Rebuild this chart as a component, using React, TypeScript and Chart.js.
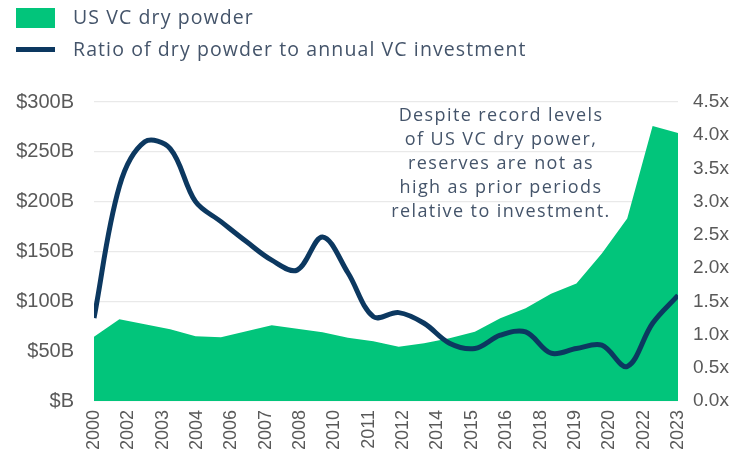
import React, { useEffect, useRef } from "react";
import { Chart, registerables } from "chart.js";

Chart.register(...registerables);

const years = [
  2000, 2001, 2002, 2003, 2004, 2005, 2006, 2007, 2008, 2009, 2010, 2011,
  2012, 2013, 2014, 2015, 2016, 2017, 2018, 2019, 2020, 2021, 2022, 2023,
];
const xTickLabels = [
  "2000", "2002", "2003", "2004", "2006", "2007", "2008", "2010", "2011",
  "2012", "2014", "2015", "2016", "2018", "2019", "2020", "2022", "2023",
];
const dryPowder = [
  64.5, 82, 77, 72, 65, 64, 70, 76, 72.5, 69, 63.5, 60, 54.5, 58, 63, 69.5,
  83, 93, 107.5, 118, 148, 183, 276, 269,
];
const ratio = [
  1.25, 3.23, 3.9, 3.8, 3.0, 2.7, 2.4, 2.12, 1.97, 2.47, 1.93, 1.27, 1.33,
  1.17, 0.87, 0.79, 0.99, 1.04, 0.72, 0.79, 0.84, 0.52, 1.17, 1.59,
];
const annotationLines = [
  "Despite record levels",
  "of US VC dry power,",
  "reserves are not as",
  "high as prior periods",
  "relative to investment.",
];

const GREEN = "#02C57B";
const NAVY = "#0C3860";
const TEXT = "#44546A";
const TICK = "#595959";

export default function App() {
  const ref = useRef<HTMLCanvasElement>(null);

  useEffect(() => {
    if (!ref.current) return;
    const annotation = {
      id: "annotation",
      afterDraw(chart: any) {
        const ctx = chart.ctx;
        ctx.save();
        ctx.font = "18px 'Open Sans'";
        (ctx as any).letterSpacing = "1.4px";
        ctx.fillStyle = TEXT;
        ctx.textAlign = "center";
        ctx.textBaseline = "middle";
        annotationLines.forEach((t, i) => {
          ctx.fillText(t, 501, 116 + i * 24);
        });
        ctx.restore();
      },
    };
    const chart = new Chart(ref.current, {
      type: "line",
      data: {
        datasets: [
          {
            label: "Ratio of dry powder to annual VC investment",
            data: ratio.map((v, i) => ({ x: i, y: v })),
            borderColor: NAVY,
            borderWidth: 5,
            pointRadius: 0,
            tension: 0.35,
            fill: false,
            yAxisID: "y1",
            order: 0,
          },
          {
            label: "US VC dry powder",
            data: dryPowder.map((v, i) => ({ x: i, y: v })),
            backgroundColor: GREEN,
            borderWidth: 0,
            borderColor: GREEN,
            pointRadius: 0,
            tension: 0,
            fill: "origin",
            yAxisID: "y",
            order: 1,
          },
        ],
      },
      options: {
        responsive: false,
        animation: false,
        layout: { padding: { top: 102, left: 0, right: 0, bottom: 0 } },
        plugins: {
          legend: { display: false },
          tooltip: { enabled: false },
        },
        scales: {
          x: {
            type: "linear",
            min: 0,
            max: years.length - 1,
            grid: { display: false, drawTicks: false },
            border: { display: false },
            afterBuildTicks: (scale: any) => {
              scale.ticks = xTickLabels.map((_, i) => ({
                value: (i * (years.length - 1)) / (xTickLabels.length - 1),
              }));
            },
            afterFit: (scale: any) => {
              scale.height = 61;
            },
            ticks: {
              autoSkip: false,
              minRotation: 90,
              maxRotation: 90,
              padding: 9,
              color: TICK,
              font: { family: "'Liberation Sans', Arial", size: 18 },
              callback: (_v: any, i: number) => xTickLabels[i],
            },
          },
          y: {
            position: "left",
            min: 0,
            max: 300,
            grid: { color: "#E9E9E9", lineWidth: 1.3, drawTicks: false },
            border: { display: false },
            afterFit: (scale: any) => {
              scale.width = 94;
            },
            ticks: {
              stepSize: 50,
              padding: 20,
              color: TICK,
              font: { family: "'Liberation Sans', Arial", size: 20 },
              callback: (v: any) => (v === 0 ? "$B" : `$${v}B`),
            },
          },
          y1: {
            position: "right",
            min: 0,
            max: 4.5,
            grid: { display: false, drawTicks: false },
            border: { display: false },
            afterFit: (scale: any) => {
              scale.width = 60;
            },
            ticks: {
              stepSize: 0.5,
              padding: 15,
              color: TICK,
              font: { family: "'Liberation Sans', Arial", size: 19 },
              callback: (v: any) => `${Number(v).toFixed(1)}x`,
            },
          },
        },
      },
      plugins: [annotation],
    });
    return () => chart.destroy();
  }, []);

  const legendText: React.CSSProperties = {
    position: "absolute",
    left: 73,
    fontFamily: "'Open Sans'",
    fontSize: 19.5,
    letterSpacing: "1.1px",
    color: TEXT,
    lineHeight: "20px",
    whiteSpace: "nowrap",
  };

  return (
    <div
      style={{
        position: "absolute",
        left: 0,
        top: 0,
        width: 738,
        height: 462,
        background: "#fff",
        overflow: "hidden",
      }}
    >
      <canvas ref={ref} width={738} height={462} style={{ display: "block" }} />
      <div
        style={{
          position: "absolute",
          left: 16,
          top: 8,
          width: 39,
          height: 20,
          background: GREEN,
        }}
      />
      <div style={{ ...legendText, top: 7 }}>US VC dry powder</div>
      <div
        style={{
          position: "absolute",
          left: 16,
          top: 47,
          width: 39,
          height: 5,
          background: NAVY,
        }}
      />
      <div style={{ ...legendText, top: 39 }}>
        Ratio of dry powder to annual VC investment
      </div>
    </div>
  );
}
